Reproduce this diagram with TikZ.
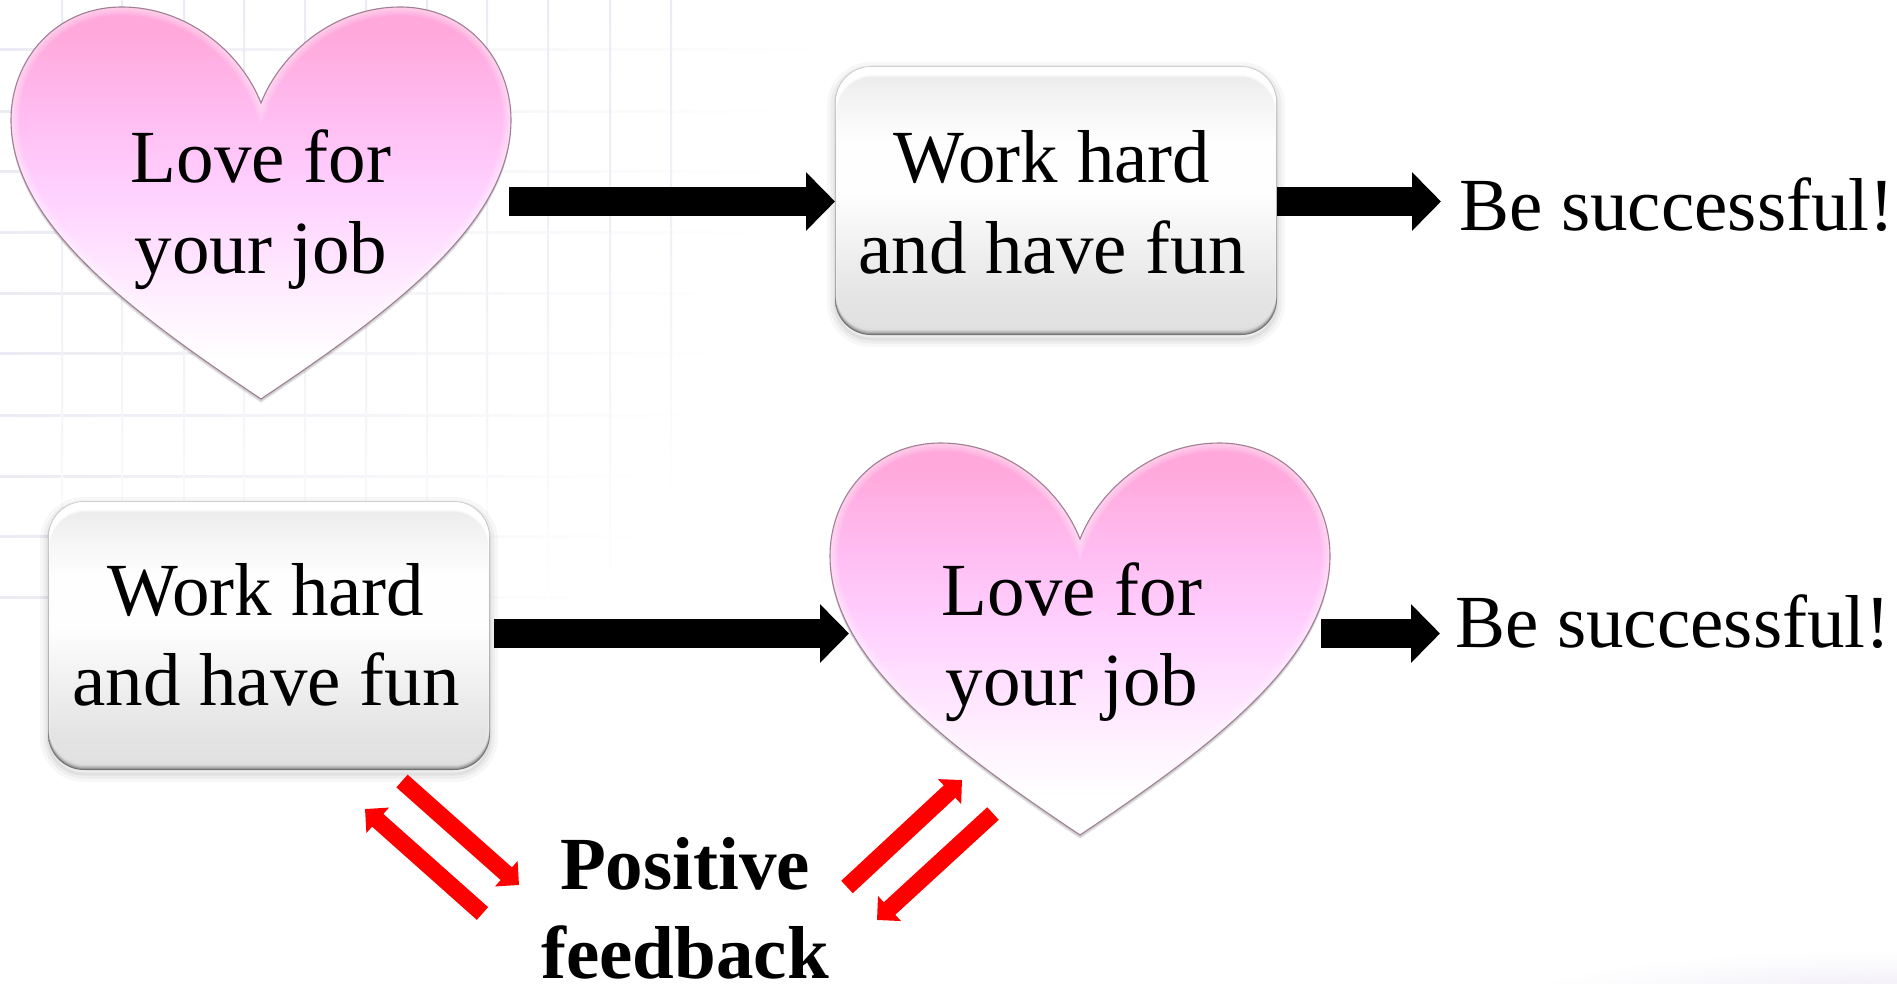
\documentclass[tikz,border=0pt]{standalone}
\usepackage{fontspec}
\setmainfont{Liberation Serif}
\usetikzlibrary{arrows.meta}
\definecolor{hA}{HTML}{FFA8DC}
\definecolor{hB}{HTML}{FFBEF2}
\definecolor{hC}{HTML}{FFD3FF}
\definecolor{hD}{HTML}{FFF0FF}
\definecolor{bTop}{HTML}{ECECEC}
\definecolor{bUp}{HTML}{F3F3F3}
\definecolor{bMid}{HTML}{FEFEFE}
\definecolor{bLow}{HTML}{E4E4E4}
\definecolor{bBot}{HTML}{E1E1E1}
\definecolor{eTop}{HTML}{D2D2D2}
\definecolor{eBot}{HTML}{6E6E6E}
\definecolor{gridc}{HTML}{EBEBF3}
\definecolor{smudge}{HTML}{EEEBF5}
\definecolor{heartedge}{HTML}{A07F95}
\definecolor{pureRed}{HTML}{FF0000}
\pgfdeclareverticalshading{heartsh}{100bp}{color(0bp)=(white);color(30bp)=(white);color(37.6bp)=(hD);color(50.4bp)=(hC);color(60.6bp)=(hB);color(71.7bp)=(hA);color(100bp)=(hA)}
\pgfdeclareverticalshading{boxsh}{100bp}{color(0bp)=(bBot);color(25bp)=(bBot);color(31bp)=(bLow);color(52bp)=(bMid);color(62bp)=(bMid);color(71bp)=(bUp);color(75bp)=(bTop);color(100bp)=(bTop)}
\newcommand{\heartcurve}{(261,103) .. controls (240,50) and (185,7) .. (122,7) .. controls (55,7) and (11,60) .. (11,120) .. controls (11,222) and (128,310) .. (261,399) .. controls (394,310) and (511,222) .. (511,120) .. controls (511,60) and (467,7) .. (400,7) .. controls (337,7) and (282,50) .. (261,103) -- cycle}
\newcommand{\drawheart}{%
  \foreach \o in {2,3,4}{\fill[black,opacity=.07,shift={(0,\o)}] \heartcurve;}
  \path[shading=heartsh] \heartcurve;
  \begin{scope}
    \clip \heartcurve;
    \foreach \w in {4,7,10,13,16}{\draw[white,opacity=.1,line width=\w pt] \heartcurve;}
  \end{scope}
  \draw[heartedge,line width=1.1pt,line join=miter] \heartcurve;
}
\newcommand{\boxlayer}[5]{%
  \path[rounded corners=36pt,#5] ([xshift=#2pt,yshift=-#3pt]#1.north west) rectangle ([xshift=-#2pt,yshift=#4pt]#1.south east);}
\newcommand{\boxdeco}[1]{%
  \boxlayer{#1}{1}{1}{1}{fill=black!42}
  \boxlayer{#1}{1}{1}{2}{fill=black!32}
  \boxlayer{#1}{1}{1}{3}{fill=black!24}
  \boxlayer{#1}{1}{1}{4}{fill=black!18}
  \boxlayer{#1}{1}{1}{5}{fill=black!13}
  \boxlayer{#1}{1}{1}{7}{top color=white,bottom color=bBot,middle color=white}
  \boxlayer{#1}{2}{9}{9}{fill=white!98!black}
  \boxlayer{#1}{2}{10}{9}{fill=white!96!black}
  \boxlayer{#1}{2}{11}{8}{shading=boxsh}
}
\tikzset{
  x=1pt,y=-1pt,
  lab/.style={font=\fontsize{75}{90}\selectfont,align=center,inner sep=0pt,text=black},
  boldlab/.style={font=\fontsize{75}{89}\selectfont\bfseries,align=center,inner sep=0pt,text=black},
  boxnode/.style={rectangle,rounded corners=36pt,minimum width=442pt,minimum height=269pt,inner sep=0pt,top color=eTop,bottom color=eBot,
    preaction={draw=black,opacity=.03,line width=16pt,transform canvas={yshift=-4pt}},
    preaction={draw=black,opacity=.04,line width=9pt,transform canvas={yshift=-4pt}},
    preaction={draw=black,opacity=.05,line width=3pt,transform canvas={yshift=-4pt}}},
  blackarrow/.style={line width=29pt,black,-{Triangle[length=29pt,width=57pt]}},
  redarrow/.style={line width=17pt,pureRed,-{Triangle[length=17pt,width=33pt]}},
}
\begin{document}
\begin{tikzpicture}
\useasboundingbox (0,0) rectangle (1897,984);
\fill[white] (0,0) rectangle (1897,984);
% background grid
\foreach \y/\e in {50/832,112/790,172/780,233/770,293/746,353/723,415/704,476/650,536/650,597/610}{
  \shade[left color=gridc,right color=white] (0,\y-1) rectangle (\e,\y+1);}
\foreach \x/\e in {62/620,122/620,184/620,244/620,305/620,366/620,427/620,487/610,548/600,610/600,671/497}{
  \shade[top color=gridc,bottom color=white,middle color=gridc!70!white] (\x-1,0) rectangle (\x+1,\e);}
\shade[inner color=smudge,outer color=white] (1897,1000) ellipse (380 and 50);
% hearts
\drawheart
\begin{scope}[shift={(819,436)}]
\drawheart
\end{scope}
\node[lab,anchor=base] (h1) at (261,273) {Love for\\your job};
\node[lab,anchor=base] (h2) at (1072,705) {Love for\\your job};
% boxes
\node[boxnode] (b1) at (1056,200.5) {};
\boxdeco{b1}
\node[lab,anchor=base] (b1t) at (1052,273) {Work hard\\and have fun};
\node[boxnode] (b2) at (269,635.5) {};
\boxdeco{b2}
\node[lab,anchor=base] (b2t) at (266,705) {Work hard\\and have fun};
% outcomes
\node[lab,anchor=base west] (s1) at (1459,231) {Be successful!};
\node[lab,anchor=base west] (s2) at (1455,647) {Be successful!};
\node[boldlab,anchor=base] (pf) at (685,978) {Positive\\feedback};
% black arrows
\coordinate (a1s) at (509,201.5); \coordinate (a1e) at (835,201.5);
\coordinate (a2s) at (1277,201.5); \coordinate (a2e) at (1441,201.5);
\coordinate (a3s) at (494,633.5); \coordinate (a3e) at (849,633.5);
\coordinate (a4s) at (1321,633.5); \coordinate (a4e) at (1440,633.5);
\draw[blackarrow] (a1s) -- (a1e);
\draw[blackarrow] (a2s) -- (a2e);
\draw[blackarrow] (a3s) -- (a3e);
\draw[blackarrow] (a4s) -- (a4e);
% red arrows
\coordinate (r1s) at (402,781); \coordinate (r1e) at (519,885);
\coordinate (r2s) at (482.5,913.5); \coordinate (r2e) at (365,809);
\coordinate (r3s) at (847,887); \coordinate (r3e) at (962,780);
\coordinate (r4s) at (993,813.5); \coordinate (r4e) at (877,920);
\draw[redarrow] (r1s) -- (r1e);
\draw[redarrow] (r2s) -- (r2e);
\draw[redarrow] (r3s) -- (r3e);
\draw[redarrow] (r4s) -- (r4e);
\end{tikzpicture}
\end{document}
